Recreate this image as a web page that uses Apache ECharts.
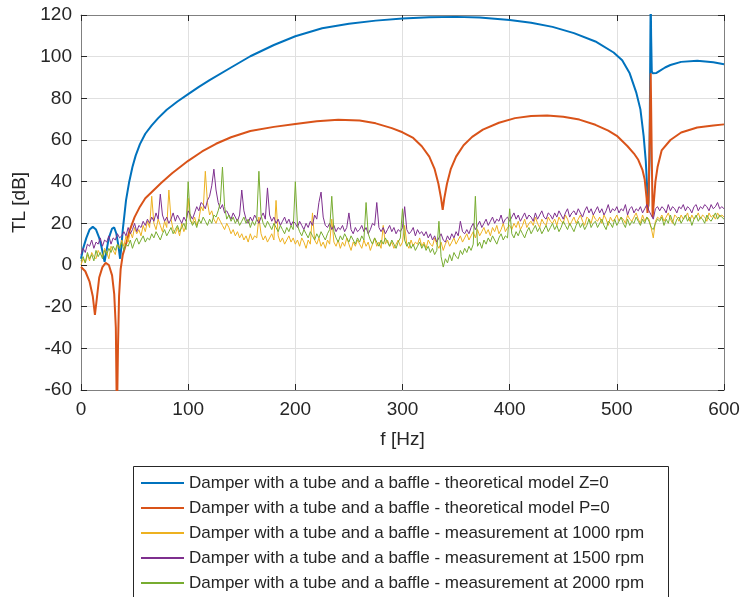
<!DOCTYPE html>
<html><head><meta charset="utf-8">
<script src="https://cdn.jsdelivr.net/npm/echarts@6/dist/echarts.min.js"></script>
<style>html,body{margin:0;padding:0;background:#fff}#c{width:744px;height:597px}</style>
</head><body><div id="c"></div>
<script>
const seriesNames = [
  'Damper with a tube and a baffle - theoretical model Z=0',
  'Damper with a tube and a baffle - theoretical model P=0',
  'Damper with a tube and a baffle - measurement at 1000 rpm',
  'Damper with a tube and a baffle - measurement at 1500 rpm',
  'Damper with a tube and a baffle - measurement at 2000 rpm'
];
const xTicks = [0, 100, 200, 300, 400, 500, 600];
const yTicks = [-60, -40, -20, 0, 20, 40, 60, 80, 100, 120];

const blueF = [0,2,5,8,11,14,17,19,21,22,23.5,26,29,31,33,35,36.5,37.5,39,42,45,48,51,55,60,66,72,80,90,100,110,120,140,158,180,200,225,250,275,300,325,350,372,400,420,440,460,480,497,505,512,518,522,525,527,528.5,529.4,530.5,531.3,531.6,532,532.6,533.4,534.7,537,540,545,550,560,575,590,600];
const blueV = [3,8,13,17,18.3,17,13,9,4,1.5,6,13,17.5,18,15,9,3,8,17,31,40,47,52.5,58,63,67,70.5,74.5,78.5,82,85.5,88.7,94.8,100.2,105.6,109.8,113.6,115.8,117.3,118.3,118.9,119.1,118.8,117.6,116.3,114.3,111.3,107.3,102,98.3,92,83,74.7,62,50,35,28,50,110,130,110,93,92,91.2,92.2,93.2,94.8,96,97.5,98,97.3,96.4];

const redF = [0,4,8,11,13,15,17,20,23,26,29,31,32.5,33.5,34.5,35.5,37,39,42,45,50,55,60,68,75,85,100,113,126,140,158,180,200,220,240,260,275,290,300,310,318,325,330,333.5,336,337.5,339,341.5,345,350,357,365,375,390,405,420,435,450,465,480,492,500,510,516,520,524,526,527.8,528.6,529.5,530.6,531.6,532.4,533.4,534.5,536,538,541.8,550,560,575,590,600];
const redV = [-1,-3,-8,-15,-24,-15,-6,-1,1,0,-5,-14,-30,-75,-40,-15,-2,5,10,16,23,28,32,36,39.5,44,50,54.5,58.2,61.3,64.3,66.3,67.7,69,69.7,69.4,68,65.7,63.7,61,57,52,46,39,32,26.5,32,39,46,52,57.5,61.5,65,68.3,70.5,71.5,71.8,71.2,69.8,67.3,64.5,62,57,53.5,50.5,45.5,41,32,25,30,60,92,60,23,30,40,47,55,60,63.6,66,67,67.5];

// measurements sampled every 2 Hz from 0 to 600 Hz
const measStepHz = 2;
const rpm1000 = [
0,3,1,5,2,6,4,3,7,5,
4,8,6,3,9,7,5,10,8,12,
9,14,11,16,13,18,15,17,14,19,
16,21,18,33,20,17,22,19,16,21,
18,36,22,17,15,18,14,20,16,19,
32,21,20,23,19,22,28,26,45,30,
24,26,22,20,23,21,19,17,20,18,
15,17,14,16,13,15,12,14,11,15,
12,14,13,23,15,12,14,11,13,15,
12,31,14,11,13,10,12,14,11,13,
10,12,9,13,11,8,12,10,25,12,
10,13,9,11,8,12,10,22,11,9,
12,8,11,9,13,10,7,11,9,12,
10,8,12,9,11,7,10,13,9,11,
8,19,10,12,9,11,8,10,12,9,
11,19,10,8,12,9,11,10,13,9,
11,8,12,10,9,13,10,8,11,7,
10,12,9,11,13,10,12,14,11,13,
15,12,14,16,13,17,14,16,18,15,
17,14,18,16,19,15,17,20,16,18,
19,17,20,18,21,17,19,22,18,20,
21,19,23,20,18,22,20,19,23,21,
20,22,19,23,21,20,24,22,19,21,
23,20,22,24,21,19,23,22,20,24,
22,21,23,20,24,22,19,23,21,22,
24,21,23,22,20,24,22,21,23,25,
22,20,24,21,23,22,18,13,21,23,
22,24,21,23,25,22,20,24,23,21,
24,22,23,25,21,24,22,23,25,22,
24,23,21,25,23,24,22,25,23,24,
23];
const rpm1500 = [
5,8,6,10,9,12,8,11,10,13,
9,12,11,14,10,13,12,15,13,14,
16,14,18,15,17,20,16,19,18,21,
19,22,20,23,21,25,22,34,24,21,
23,20,22,25,21,24,22,20,23,21,
26,24,22,25,28,26,30,29,27,31,
33,38,46,36,30,27,29,25,26,24,
22,25,23,21,24,36,26,22,20,23,
21,24,22,20,23,25,22,37,24,21,
23,20,22,19,21,23,20,22,19,21,
20,18,21,19,17,20,18,21,19,24,
22,30,35,23,19,18,20,17,19,16,
18,17,19,16,18,25,17,15,18,16,
17,19,16,18,15,17,20,19,30,18,
16,18,15,17,19,16,18,15,17,16,
18,28,17,15,16,18,14,17,15,16,
14,16,13,15,12,14,11,13,15,12,
11,14,12,15,13,16,14,21,16,15,
17,15,18,20,17,19,21,18,20,22,
19,21,23,20,22,21,24,20,22,23,
21,23,25,22,24,21,23,25,22,24,
23,21,25,22,24,26,23,22,25,24,
22,25,23,26,24,22,25,27,23,25,
26,24,27,25,23,26,28,25,27,24,
26,28,25,27,24,26,29,25,27,26,
28,25,27,26,29,24,27,28,25,27,
26,28,25,27,29,26,24,22,27,28,
26,28,27,25,29,26,28,27,25,28,
27,29,26,28,27,25,28,29,26,28,
27,29,28,26,29,27,28,30,27,28,
27];
const rpm2000 = [
2,4,1,6,3,5,2,7,4,6,
3,7,5,8,6,9,7,10,8,11,
7,10,9,12,8,11,13,10,12,14,
11,13,12,15,13,16,14,12,15,17,
14,16,18,15,17,19,16,18,20,17,
40,22,19,21,18,22,20,23,21,19,
22,20,24,23,26,30,47,28,22,24,
21,23,20,22,19,21,23,20,22,18,
21,19,22,45,24,20,18,21,19,17,
20,18,16,19,17,15,18,16,19,17,
40,19,16,14,17,15,13,16,14,12,
15,13,16,14,12,15,17,33,16,13,
11,14,12,15,13,11,14,12,10,13,
11,14,12,30,15,12,10,13,11,9,
12,10,13,11,9,12,10,8,11,13,
27,12,9,11,8,10,7,9,11,8,
10,7,9,6,8,5,7,21,4,-1,
3,1,5,2,6,4,3,7,5,8,
6,9,7,10,33,9,11,8,12,10,
13,11,14,12,10,13,15,12,14,13,
27,15,13,16,14,17,15,13,16,18,
15,17,19,16,18,15,17,19,16,18,
20,17,19,16,18,21,19,17,20,18,
16,19,21,18,20,17,19,22,18,20,
21,18,20,22,19,17,21,20,18,22,
19,21,23,20,18,22,19,21,20,23,
21,19,22,20,23,21,18,17,20,22,
21,23,19,22,20,24,21,19,22,23,
20,22,24,21,23,19,22,24,21,23,
22,20,24,22,21,23,25,22,24,23,
22];

const colors = ['#0072BD', '#D95319', '#EDB120', '#7E2F8E', '#77AC30'];
const FONT = '"Liberation Sans", Arial, Helvetica, sans-serif';
const TXT = '#262626';

const pair = (fs, vs) => fs.map((f, i) => [f, vs[i]]);
const meas = vs => vs.map((v, i) => [i * measStepHz, v]);

const chart = echarts.init(document.getElementById('c'), null, {renderer: 'canvas'});
const lineSeries = (name, data, color, width) => ({
  name, type: 'line', data, symbol: 'none', showSymbol: false, smooth: false,
  xAxisIndex: 0, yAxisIndex: 0, clip: true,
  lineStyle: {color, width}, itemStyle: {color}, animation: false
});
const boxAxis = {
  axisLine: {show: true, onZero: false, lineStyle: {color: '#808080', width: 1}},
  axisTick: {show: true, inside: true, length: 6, lineStyle: {color: TXT}},
};

chart.setOption({
  animation: false,
  textStyle: {fontFamily: FONT},
  grid: {left: 81, top: 15, right: 20, bottom: 207, containLabel: false},
  xAxis: [Object.assign({
    type: 'value', min: xTicks[0], max: xTicks[xTicks.length - 1], interval: 100,
    name: 'f [Hz]', nameLocation: 'middle', nameGap: 40,
    nameTextStyle: {fontSize: 19, color: TXT, fontFamily: FONT},
    axisLabel: {fontSize: 19, color: TXT, margin: 10, fontFamily: FONT},
    splitLine: {show: true, lineStyle: {color: '#e0e0e0', width: 1}}
  }, boxAxis), Object.assign({
    type: 'value', position: 'top', min: 0, max: 600, interval: 100,
    axisLabel: {show: false}, splitLine: {show: false}
  }, boxAxis)],
  yAxis: [Object.assign({
    type: 'value', min: yTicks[0], max: yTicks[yTicks.length - 1], interval: 20,
    name: 'TL [dB]', nameLocation: 'middle', nameGap: 50, nameRotate: 90,
    nameTextStyle: {fontSize: 19, color: TXT, fontFamily: FONT},
    axisLabel: {fontSize: 19, color: TXT, margin: 9, fontFamily: FONT},
    splitLine: {show: true, lineStyle: {color: '#e0e0e0', width: 1}}
  }, boxAxis), Object.assign({
    type: 'value', position: 'right', min: -60, max: 120, interval: 20,
    axisLabel: {show: false}, splitLine: {show: false}
  }, boxAxis)],
  legend: {
    orient: 'vertical', left: 140, top: 473, padding: 0,
    itemWidth: 43, itemHeight: 20, itemGap: 5,
    itemStyle: {opacity: 0},
    textStyle: {fontSize: 17, color: TXT, fontFamily: FONT, lineHeight: 20},
    data: seriesNames
  },
  graphic: [{
    type: 'rect', z: -10, silent: true,
    shape: {x: 133.5, y: 466.5, width: 535, height: 140},
    style: {fill: '#ffffff', stroke: '#262626', lineWidth: 1}
  }],
  series: [
    lineSeries(seriesNames[0], pair(blueF, blueV), colors[0], 2),
    lineSeries(seriesNames[1], pair(redF, redV), colors[1], 2),
    lineSeries(seriesNames[2], meas(rpm1000), colors[2], 1),
    lineSeries(seriesNames[3], meas(rpm1500), colors[3], 1),
    lineSeries(seriesNames[4], meas(rpm2000), colors[4], 1)
  ]
});
</script></body></html>
